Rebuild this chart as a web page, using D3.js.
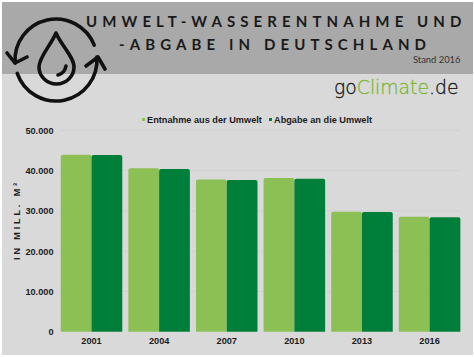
<!DOCTYPE html>
<html lang="de">
<head>
<meta charset="utf-8">
<script src="https://cdn.jsdelivr.net/npm/d3@7"></script>
<style>
  html, body { margin: 0; padding: 0; background: #fff; }
  svg { display: block; }
  text { font-family: "Liberation Sans", Arial, sans-serif; }
</style>
</head>
<body>
<div id="chart"></div>
<script>
const width = 474;
const height = 357;

// Werte (Mill. m³)
const years = ["2001", "2004", "2007", "2010", "2013", "2016"];
const entnahme = [43900, 40550, 37800, 38150, 29800, 28550];
const abgabe = [43850, 40400, 37650, 38000, 29700, 28400];
const seriesNames = ["Entnahme aus der Umwelt", "Abgabe an die Umwelt"];
const seriesColors = ["#8cc055", "#007f3a"];
const yTicks = [0, 10000, 20000, 30000, 40000, 50000];
const titleLines = ["UMWELT-WASSERENTNAHME UND", "-ABGABE IN DEUTSCHLAND"];

const svg = d3.select("#chart").append("svg")
  .attr("width", width)
  .attr("height", height);

// Hintergrund und Kopfband
svg.append("rect").attr("x", 2).attr("y", 2).attr("width", width - 3).attr("height", height - 4).attr("fill", "#d9d9d9");
svg.append("rect").attr("x", 2).attr("y", 2).attr("width", width - 3).attr("height", 72).attr("fill", "#a9a9a9");

// Skalen
const x = d3.scaleBand().domain(years).range([57.7, 463.4]).paddingInner(0.09).paddingOuter(0.045);
const x1 = d3.scaleBand().domain([0, 1]).range([0, x.bandwidth()]);
const y = d3.scaleLinear().domain([0, 50000]).range([331.7, 130.3]);

// Gitterlinien
svg.append("g").selectAll("line")
  .data(yTicks.slice(1))
  .join("line")
  .attr("x1", 60).attr("x2", 460)
  .attr("y1", d => y(d)).attr("y2", d => y(d))
  .attr("stroke", "#d1d1d1").attr("stroke-width", 1);

// Balken
[entnahme, abgabe].forEach((values, s) => {
  svg.append("g").selectAll("path")
    .data(values)
    .join("path")
    .attr("fill", seriesColors[s])
    .attr("d", (d, i) => {
      const left = x(years[i]) + x1(s);
      const w = x1.bandwidth();
      const p = d3.path();
      p.moveTo(left, y(0));
      p.lineTo(left, y(d) + 2);
      p.arcTo(left, y(d), left + 2, y(d), 2);
      p.lineTo(left + w - 2, y(d));
      p.arcTo(left + w, y(d), left + w, y(d) + 2, 2);
      p.lineTo(left + w, y(0));
      p.closePath();
      return p.toString();
    });
});

// Achsen
const yAxis = d3.axisLeft(y).tickValues(yTicks).tickSize(0).tickPadding(0)
  .tickFormat(d => d === 0 ? "0" : d3.format(",")(d).replace(",", "."));
const gy = svg.append("g").attr("transform", "translate(53.5,0)").call(yAxis);
gy.select(".domain").remove();
gy.selectAll("text").attr("font-size", 9.2).attr("font-weight", "bold").attr("fill", "#1c1c1c").attr("font-family", "'Liberation Sans', sans-serif");

const xAxis = d3.axisBottom(x).tickSize(0).tickPadding(0);
const gx = svg.append("g").attr("transform", "translate(0,337.5)").call(xAxis);
gx.select(".domain").remove();
gx.selectAll("text").attr("font-size", 9.2).attr("font-weight", "bold").attr("fill", "#1c1c1c").attr("font-family", "'Liberation Sans', sans-serif");

// Achsentitel
svg.append("text")
  .attr("transform", "translate(20,220) rotate(-90)")
  .attr("text-anchor", "middle")
  .attr("font-size", 9).attr("font-weight", "bold").attr("letter-spacing", 2.9).attr("fill", "#1c1c1c")
  .text("IN MILL. M³");

// Legende
const legendX = [142, 269];
seriesNames.forEach((name, i) => {
  svg.append("rect").attr("x", legendX[i]).attr("y", 118).attr("width", 3).attr("height", 3).attr("fill", seriesColors[i]);
  svg.append("text").attr("x", legendX[i] + 5).attr("y", 122.5)
    .attr("font-size", 9.2).attr("font-weight", "bold").attr("fill", "#1c1c1c").text(name);
});

// Titel
svg.selectAll(".title")
  .data(titleLines)
  .join("text")
  .attr("class", "title")
  .attr("x", (d, i) => i === 0 ? 86 : 119)
  .attr("y", (d, i) => i === 0 ? 26.7 : 50)
  .attr("font-size", 15)
  .attr("letter-spacing", 5.1)
  .attr("fill", "#1a1a1a")
  .style("font-family", "Lato, sans-serif")
  .style("font-weight", 700)
  .text(d => d);

svg.append("text").attr("x", 460.5).attr("y", 62.5).attr("text-anchor", "end")
  .attr("font-size", 9.4).attr("fill", "#333").style("font-family", "Lato, sans-serif").text("Stand 2016");

// Logo
const logo = svg.append("text").attr("x", 334).attr("y", 94).attr("font-size", 18.8)
  .attr("stroke-width", 0.3)
  .style("font-family", "'DejaVu Sans ExtraLight', 'DejaVu Sans', sans-serif").style("font-weight", 200)
  .attr("fill", "#111").attr("stroke", "#111");
logo.append("tspan").text("go");
logo.append("tspan").attr("fill", "#7cb82f").attr("stroke", "#7cb82f").text("Climate");
logo.append("tspan").text(".de");

// Symbol: Wasserkreislauf
const icon = svg.append("g").attr("transform", "translate(56,60)")
  .attr("fill", "none").attr("stroke", "#111").attr("stroke-width", 3.6)
  .attr("stroke-linecap", "round").attr("stroke-linejoin", "round");
const ring = d3.arc().innerRadius(41).outerRadius(41);
icon.append("path").attr("d", ring({ startAngle: -1.64, endAngle: 1.2 }));
icon.append("path").attr("d", ring({ startAngle: 1.5, endAngle: 4.38 }));
icon.append("path").attr("d", "M-49,-7 L-41,3 L-29,-3");
icon.append("path").attr("d", "M30,6 L42,-3 L49,9");
icon.append("path").attr("d", "M0,-27 C5,-15 18,-3 18,7 A17.5,17 0 0 1 -17,7 C-17,-3 -5,-15 0,-27 Z");
icon.append("path").attr("d", "M2,15 C6,14 9,11 10,6");
</script>
</body>
</html>
